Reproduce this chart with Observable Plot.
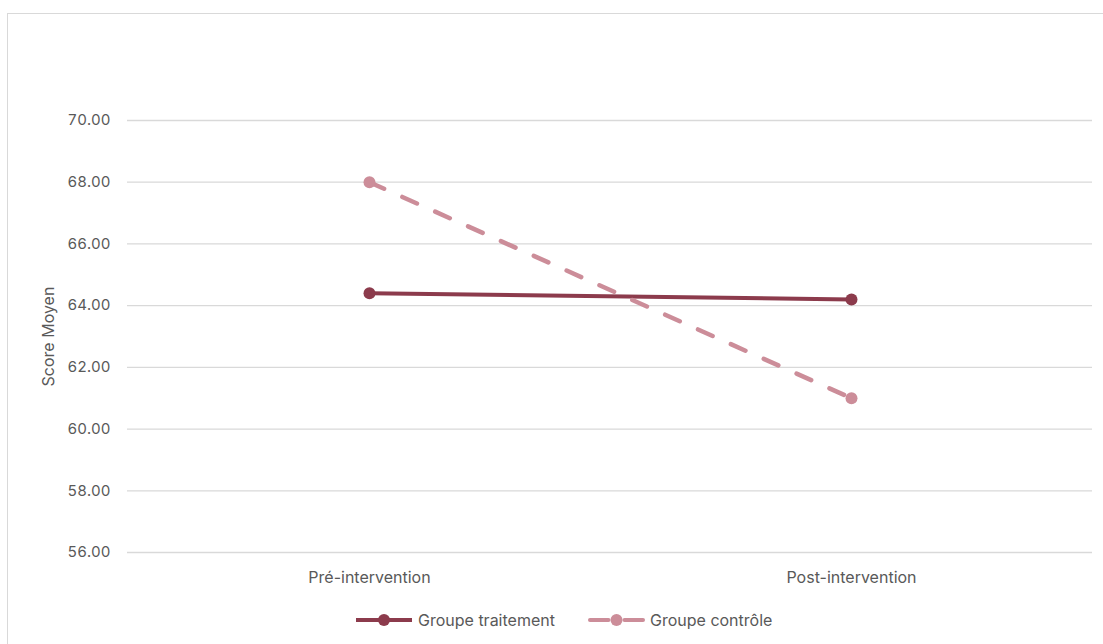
<!DOCTYPE html>
<html>
<head>
<meta charset="utf-8">
<script src="https://cdn.jsdelivr.net/npm/d3@7"></script>
<script src="https://cdn.jsdelivr.net/npm/@observablehq/plot@0.6"></script>
<style>
  html, body { margin: 0; padding: 0; background: #fff; width: 1103px; height: 644px; overflow: hidden; font-family: Inter, "Open Sans", sans-serif; }
  #frame { position: absolute; left: 7px; top: 13px; width: 1110px; height: 650px; border: 1px solid #d9d9d9; box-sizing: border-box; }
  #chart { position: absolute; left: 0; top: 0; }
  #legend { position: absolute; left: 0; top: 606px; width: 1103px; height: 28px; }
</style>
</head>
<body>
<div id="frame"></div>
<div id="chart"></div>
<div id="legend"></div>
<script>
const phases = ["Pré-intervention", "Post-intervention"];
const groups = ["Groupe traitement", "Groupe contrôle"];
const traitement = [64.4, 64.2];
const controle = [68.0, 61.0];
const yTicks = [56, 58, 60, 62, 64, 66, 68, 70];
const colors = ["#8c3b4c", "#cc8d99"];

const data = [];
phases.forEach((p, i) => {
  data.push({phase: p, group: groups[0], value: traitement[i]});
  data.push({phase: p, group: groups[1], value: controle[i]});
});

const textColor = "#595959";
const font = "Inter, 'Open Sans', sans-serif";
const chart = Plot.plot({
  width: 1103,
  height: 600,
  marginTop: 120,
  marginBottom: 48,
  marginLeft: 127,
  marginRight: 11,
  style: {fontFamily: font, fontSize: "15px", color: textColor, background: "transparent"},
  x: {type: "point", domain: phases, padding: 0.5},
  y: {domain: [56, 70]},
  color: {domain: groups, range: colors},
  marks: [
    Plot.gridY(yTicks, {stroke: "#d9d9d9", strokeOpacity: 1, strokeWidth: 1.3}),
    Plot.axisY({ticks: yTicks, tickSize: 0, tickPadding: 17, tickFormat: d => d.toFixed(2), label: null, fill: textColor, fontSize: 15}),
    Plot.text(["Score Moyen"], {frameAnchor: "left", dx: -79, rotate: -90, fill: textColor, fontSize: 16, textAnchor: "middle"}),
    Plot.axisX({tickSize: 0, tickPadding: 19, label: null, fill: textColor, fontSize: 16}),
    Plot.line(data.filter(d => d.group === groups[0]), {x: "phase", y: "value", stroke: colors[0], strokeWidth: 4}),
    Plot.line(data.filter(d => d.group === groups[1]), {x: "phase", y: "value", stroke: colors[1], strokeWidth: 4.5, strokeDasharray: "16 20", strokeLinecap: "round"}),
    Plot.dot(data, {x: "phase", y: "value", fill: "group", r: 6})
  ]
});
document.getElementById("chart").appendChild(chart);

// legend
const legend = d3.select("#legend").append("svg").attr("width", 1103).attr("height", 28);
const items = [
  {x0: 356, x1: 412, tx: 418, color: colors[0], dashed: false, label: groups[0]},
  {x0: 590, x1: 643, tx: 650, color: colors[1], dashed: true, label: groups[1]}
];
items.forEach(it => {
  const cx = (it.x0 + it.x1) / 2;
  if (it.dashed) {
    legend.append("line").attr("x1", it.x0).attr("x2", cx - 8).attr("y1", 14).attr("y2", 14)
      .attr("stroke", it.color).attr("stroke-width", 4).attr("stroke-linecap", "round");
    legend.append("line").attr("x1", cx + 8).attr("x2", it.x1).attr("y1", 14).attr("y2", 14)
      .attr("stroke", it.color).attr("stroke-width", 4).attr("stroke-linecap", "round");
  } else {
    legend.append("line").attr("x1", it.x0).attr("x2", it.x1).attr("y1", 14).attr("y2", 14)
      .attr("stroke", it.color).attr("stroke-width", 4);
  }
  legend.append("circle").attr("cx", cx).attr("cy", 14).attr("r", 6).attr("fill", it.color);
  legend.append("text").attr("x", it.tx).attr("y", 14).attr("dy", "0.35em")
    .attr("fill", textColor).attr("font-size", 16).attr("font-family", font).text(it.label);
});
</script>
</body>
</html>
